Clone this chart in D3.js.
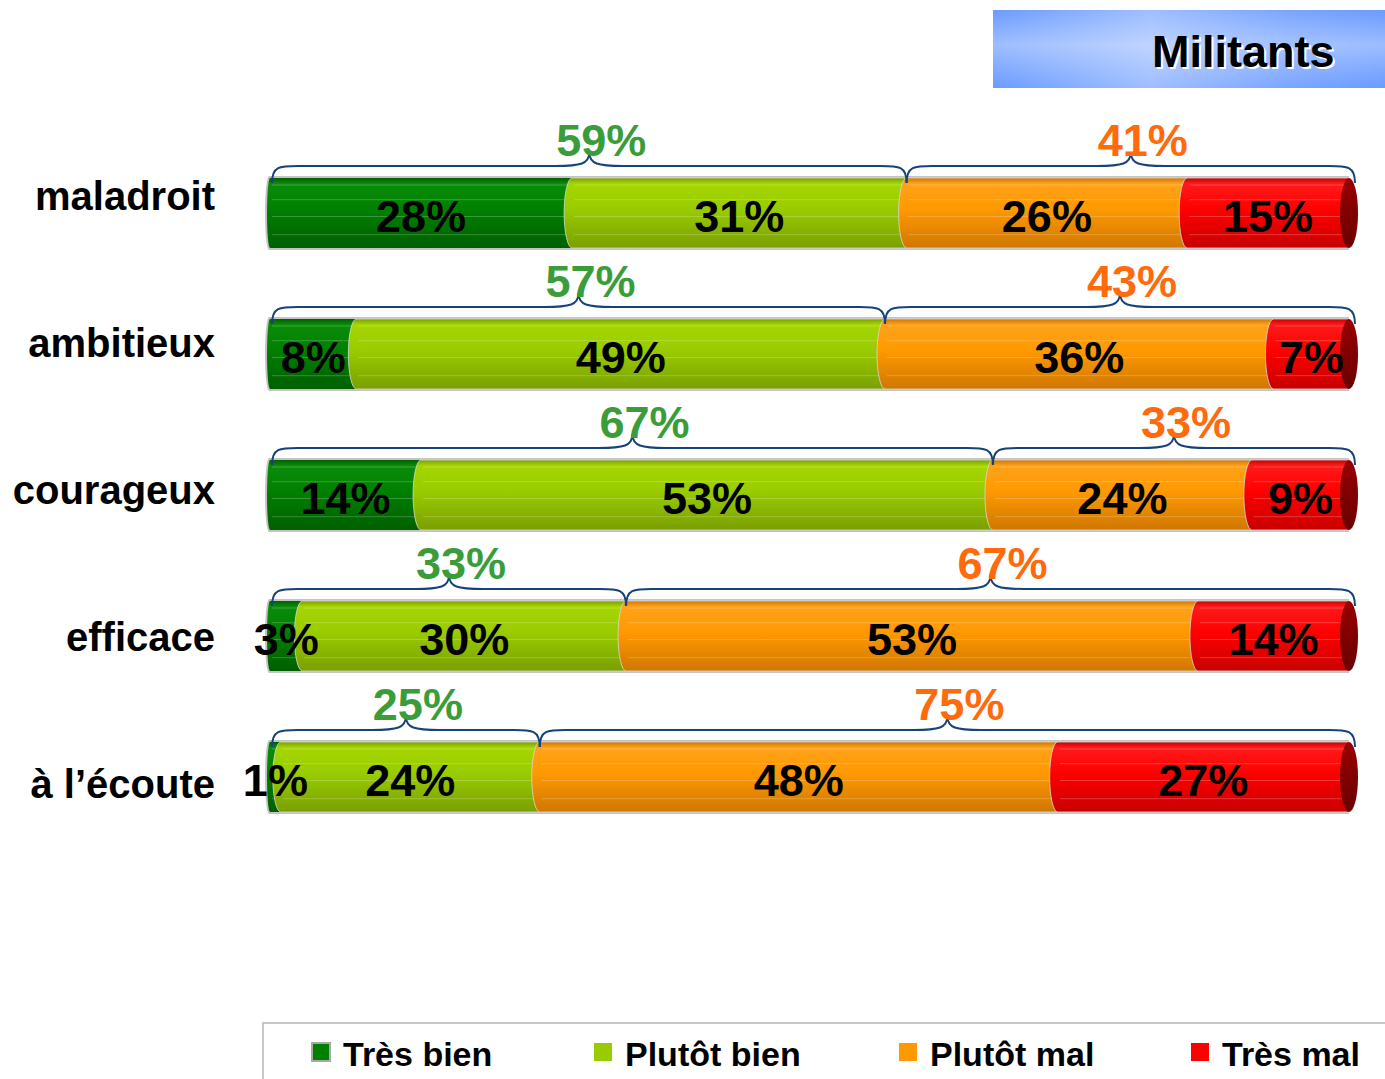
<!DOCTYPE html>
<html>
<head>
<meta charset="utf-8">
<script src="https://cdn.jsdelivr.net/npm/d3@7"></script>
<style>
  html, body { margin: 0; padding: 0; background: #ffffff; }
  svg { display: block; font-family: "Liberation Sans", Arial, sans-serif; }
</style>
</head>
<body>
<svg id="chart" width="1385" height="1079"></svg>
<script>
// Survey answers per trait, in percent
const categories = ["maladroit", "ambitieux", "courageux", "efficace", "à l’écoute"];
const seriesNames = ["Très bien", "Plutôt bien", "Plutôt mal", "Très mal"];
const tresBien   = [28, 8, 14, 3, 1];
const plutotBien = [31, 49, 53, 30, 24];
const plutotMal  = [26, 36, 24, 53, 48];
const tresMal    = [15, 7, 9, 14, 27];
const title = "Militants";

const seriesValues = [tresBien, plutotBien, plutotMal, tresMal];

// Colour ramps for each series: [top, body, bottom]
const shades = [
  ["#0a8c0a", "#008000", "#005f00"],
  ["#a6d600", "#99cc00", "#7a9f00"],
  ["#ffa21a", "#ff9900", "#cf7700"],
  ["#ff1a1a", "#ff0000", "#c80000"]
];
const legendColors = ["#008000", "#99cc00", "#ff9900", "#ff0000"];
const positiveColor = "#3a9d3a";
const negativeColor = "#ff6a0d";
const braceColor = "#17427a";

const svg = d3.select("#chart");
const defs = svg.append("defs");

shades.forEach((s, i) => {
  const g = defs.append("linearGradient")
    .attr("id", "grad" + i).attr("x1", 0).attr("y1", 0).attr("x2", 0).attr("y2", 1);
  g.append("stop").attr("offset", "0%").attr("stop-color", s[2]);
  g.append("stop").attr("offset", "8%").attr("stop-color", s[0]);
  g.append("stop").attr("offset", "45%").attr("stop-color", s[1]);
  g.append("stop").attr("offset", "100%").attr("stop-color", s[2]);
});
const capGrad = defs.append("linearGradient")
  .attr("id", "capGrad").attr("x1", 0).attr("y1", 0).attr("x2", 0).attr("y2", 1);
capGrad.append("stop").attr("offset", "0%").attr("stop-color", "#990000");
capGrad.append("stop").attr("offset", "100%").attr("stop-color", "#6a0000");

// Title banner gradients
const tv = defs.append("linearGradient")
  .attr("id", "titleV").attr("x1", 0).attr("y1", 0).attr("x2", 0).attr("y2", 1);
tv.append("stop").attr("offset", "0%").attr("stop-color", "#6b9bff");
tv.append("stop").attr("offset", "45%").attr("stop-color", "#9dbdff");
tv.append("stop").attr("offset", "100%").attr("stop-color", "#6b9bff");
const th = defs.append("linearGradient")
  .attr("id", "titleH").attr("x1", 0).attr("y1", 0).attr("x2", 1).attr("y2", 0);
th.append("stop").attr("offset", "0%").attr("stop-color", "#ffffff").attr("stop-opacity", 0);
th.append("stop").attr("offset", "40%").attr("stop-color", "#ffffff").attr("stop-opacity", 0.35);
th.append("stop").attr("offset", "75%").attr("stop-color", "#ffffff").attr("stop-opacity", 0.1);
th.append("stop").attr("offset", "100%").attr("stop-color", "#ffffff").attr("stop-opacity", 0);

// Scales
const x = d3.scaleLinear().domain([0, 100]).range([270, 1349]);
const yBar = d3.scalePoint().domain(categories).range([178, 742]);
const yLabel = d3.scalePoint().domain(categories).range([210, 798]);
const barH = 70;
const bulge = 8;
const startBulge = 3;

// Title banner
const tb = svg.append("g");
tb.append("rect").attr("x", 993).attr("y", 10).attr("width", 392).attr("height", 78).attr("fill", "url(#titleV)");
tb.append("rect").attr("x", 993).attr("y", 10).attr("width", 392).attr("height", 78).attr("fill", "url(#titleH)");
tb.append("text").attr("x", 1154).attr("y", 69).attr("fill", "#ffffff")
  .attr("font-size", 45).attr("font-weight", "bold").text(title);
tb.append("text").attr("x", 1152).attr("y", 67).attr("fill", "#000000")
  .attr("font-size", 45).attr("font-weight", "bold").text(title);

// Category labels
svg.append("g").selectAll("text").data(categories).join("text")
  .attr("x", 215).attr("y", d => yLabel(d))
  .attr("text-anchor", "end").attr("font-size", 40).attr("font-weight", "bold")
  .attr("fill", "#000").text(d => d);

// Segment outline: elliptic bulge on the left edge, straight right edge
function segPath(x0, x1, top, rx) {
  const bot = top + barH;
  return `M${x0},${top} L${x1},${top} L${x1},${bot} L${x0},${bot} ` +
         `A${rx},${barH / 2} 0 0 1 ${x0},${top} Z`;
}

// Curly brace pointing up, between xa and xb, resting on the bar top
function bracePath(xa, xb, top) {
  const yb = top + 5, ym = top - 12, yt = top - 26;
  const xm = (xa + xb) / 2;
  const r = Math.min(26, (xb - xa) / 6);
  const rt = Math.min(34, (xb - xa) / 5);
  return `M${xa},${yb} C${xa},${ym} ${xa + r * 0.3},${ym} ${xa + r},${ym} ` +
         `L${xm - rt},${ym} C${xm - rt * 0.25},${ym} ${xm},${ym - 2} ${xm},${yt} ` +
         `C${xm},${ym - 2} ${xm + rt * 0.25},${ym} ${xm + rt},${ym} ` +
         `L${xb - r},${ym} C${xb - r * 0.3},${ym} ${xb},${ym} ${xb},${yb}`;
}

const rows = categories.map((c, i) => {
  let acc = 0;
  const segs = seriesValues.map((vals, s) => {
    const seg = { series: s, v: vals[i], start: acc, end: acc + vals[i] };
    acc += vals[i];
    return seg;
  });
  return { cat: c, segs, positive: tresBien[i] + plutotBien[i], negative: plutotMal[i] + tresMal[i] };
});

const rowG = svg.append("g").selectAll("g.row").data(rows).join("g").attr("class", "row");

// Grey rim behind the cylinder
rowG.append("path")
  .attr("d", d => {
    const top = yBar(d.cat) - 2;
    const x0 = x(0) - 1, x1 = x(100);
    const h = barH + 4;
    return `M${x0},${top} L${x1},${top} L${x1},${top + h} L${x0},${top + h} A${startBulge + 1},${h / 2} 0 0 1 ${x0},${top} Z`;
  })
  .attr("fill", "#c4c4c4");

// Segments
rowG.each(function (d) {
  const g = d3.select(this);
  const top = yBar(d.cat);
  d.segs.forEach(seg => {
    if (seg.v <= 0) return;
    const x0 = x(seg.start), x1 = x(seg.end);
    const first = seg.start === 0;
    g.append("path").attr("d", segPath(x0, x1, top, first ? startBulge : bulge))
      .attr("fill", `url(#grad${seg.series})`)
      .attr("stroke", first ? "none" : "#d8d8d8")
      .attr("stroke-width", 0.8);
    // fine horizontal sheen lines
    [0.1, 0.31, 0.55, 0.81].forEach(f => {
      g.append("line")
        .attr("x1", x0 + 2).attr("x2", x1)
        .attr("y1", top + f * barH).attr("y2", top + f * barH)
        .attr("stroke", "#ffffff").attr("stroke-opacity", 0.22).attr("stroke-width", 1);
    });
  });
  // end cap
  g.append("ellipse").attr("cx", x(100)).attr("cy", top + barH / 2)
    .attr("rx", bulge + 1).attr("ry", barH / 2).attr("fill", "url(#capGrad)");
});

// Value labels inside the segments
rowG.each(function (d) {
  const g = d3.select(this);
  const top = yBar(d.cat);
  d.segs.forEach(seg => {
    g.append("text")
      .attr("x", x((seg.start + seg.end) / 2))
      .attr("y", top + 54)
      .attr("text-anchor", "middle").attr("font-size", 45).attr("font-weight", "bold")
      .attr("fill", "#000").text(seg.v + "%");
  });
});

// Braces and grouped totals
rowG.each(function (d) {
  const g = d3.select(this);
  const top = yBar(d.cat);
  const groups = [
    { a: 0, b: d.positive, v: d.positive, color: positiveColor },
    { a: d.positive, b: 100, v: d.negative, color: negativeColor }
  ];
  groups.forEach(gr => {
    const xa = x(gr.a) + (gr.a === 0 ? 2 : 0);
    const xb = x(gr.b) + (gr.b === 100 ? 6 : 0);
    g.append("path").attr("d", bracePath(xa, xb, top))
      .attr("fill", "none").attr("stroke", braceColor).attr("stroke-width", 2);
    g.append("text")
      .attr("x", (xa + xb) / 2 + 12).attr("y", top - 22)
      .attr("text-anchor", "middle").attr("font-size", 45).attr("font-weight", "bold")
      .attr("fill", gr.color).text(gr.v + "%");
  });
});

// Legend
const lg = svg.append("g");
lg.append("path").attr("d", "M263,1079 L263,1023 L1385,1023")
  .attr("fill", "none").attr("stroke", "#c8c8c8").attr("stroke-width", 2);
const legendPos = [312, 594, 899, 1191];
const li = lg.selectAll("g.item").data(seriesNames).join("g").attr("class", "item")
  .attr("transform", (d, i) => `translate(${legendPos[i]},1043)`);
li.append("rect").attr("width", 18).attr("height", 18)
  .attr("fill", (d, i) => legendColors[i])
  .attr("stroke", (d, i) => i === 0 ? "#a8a8a8" : "none").attr("stroke-width", 2);
li.append("text").attr("x", 31).attr("y", 23)
  .attr("font-size", 34).attr("font-weight", "bold").attr("fill", "#000").text(d => d);
</script>
</body>
</html>
